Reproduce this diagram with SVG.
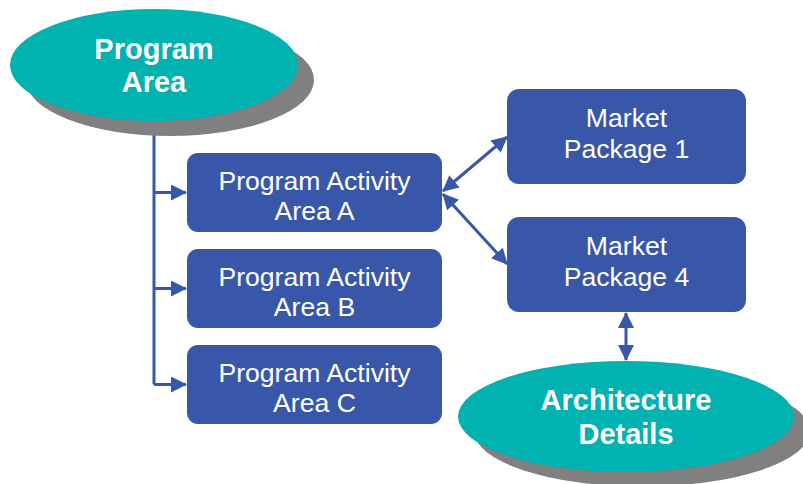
<svg xmlns="http://www.w3.org/2000/svg" width="803" height="484" viewBox="0 0 803 484">
<style>
.shadow{fill:#808080}
.oval{fill:#00B2B0}
.box{fill:#3957A8}
.bt{font-family:"Liberation Sans",Arial,sans-serif;font-size:29px;font-weight:bold;fill:#fff;text-anchor:middle}
.rt{font-family:"Liberation Sans",Arial,sans-serif;font-size:26.6px;fill:#fff;text-anchor:middle}
.ln{stroke:#3957A8;stroke-width:3;fill:none}
</style>
<defs>
<marker id="ah" markerUnits="userSpaceOnUse" markerWidth="16" markerHeight="16" refX="15" refY="8" orient="auto-start-reverse" viewBox="0 0 16 16">
<path d="M0,0 L16,8 L0,16 Z" fill="#3957A8"/>
</marker>
</defs>
<rect width="803" height="484" fill="#fff"/>
<g id="connectors">
<path class="ln" d="M154,120 V384.5"/>
<path class="ln" d="M154,192.5 H186" marker-end="url(#ah)"/>
<path class="ln" d="M154,288.5 H186" marker-end="url(#ah)"/>
<path class="ln" d="M154,384.5 H186" marker-end="url(#ah)"/>
<path class="ln" d="M443,191 L507,137" marker-start="url(#ah)" marker-end="url(#ah)"/>
<path class="ln" d="M443,194 L507,264" marker-start="url(#ah)" marker-end="url(#ah)"/>
<path class="ln" stroke-width="4" d="M626,313 V360" marker-start="url(#ah)" marker-end="url(#ah)"/>
</g>
<g id="program-area">
<ellipse class="shadow" cx="170" cy="80" rx="144" ry="56"/>
<ellipse class="oval" cx="154" cy="65" rx="144" ry="56"/>
<text class="bt" x="154" y="59">Program</text>
<text class="bt" x="154" y="92">Area</text>
</g>
<g id="paa-a">
<rect class="box" x="187" y="153" width="255" height="79" rx="11"/>
<text class="rt" x="314.5" y="190">Program Activity</text>
<text class="rt" x="314.5" y="220">Area A</text>
</g>
<g id="paa-b">
<rect class="box" x="187" y="249" width="255" height="79" rx="11"/>
<text class="rt" x="314.5" y="286">Program Activity</text>
<text class="rt" x="314.5" y="316">Area B</text>
</g>
<g id="paa-c">
<rect class="box" x="187" y="345" width="255" height="79" rx="11"/>
<text class="rt" x="314.5" y="382">Program Activity</text>
<text class="rt" x="314.5" y="412">Area C</text>
</g>
<g id="mp-1">
<rect class="box" x="507" y="89" width="239" height="95" rx="12"/>
<text class="rt" x="626.5" y="127">Market</text>
<text class="rt" x="626.5" y="158">Package 1</text>
</g>
<g id="mp-4">
<rect class="box" x="507" y="217" width="239" height="95" rx="12"/>
<text class="rt" x="626.5" y="255">Market</text>
<text class="rt" x="626.5" y="286">Package 4</text>
</g>
<g id="architecture-details">
<ellipse class="shadow" cx="642" cy="431" rx="168" ry="55.5"/>
<ellipse class="oval" cx="626" cy="416.5" rx="168" ry="55.5"/>
<text class="bt" x="626" y="410">Architecture</text>
<text class="bt" x="626" y="444">Details</text>
</g>
</svg>
